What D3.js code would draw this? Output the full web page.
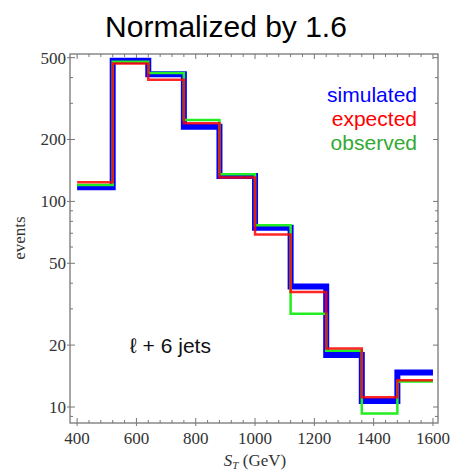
<!DOCTYPE html>
<html><head><meta charset="utf-8">
<script src="https://cdn.jsdelivr.net/npm/d3@7"></script>
<style>body{margin:0;background:#fff}</style>
</head><body>
<script>
const binEdges = [400,520,640,760,880,1000,1120,1240,1360,1480,1600];
const simulated = [117,483,415,231,133,74.4,38.6,17.9,10.7,14.7];
const expected  = [124,468,391,240,130.6,69,36.3,19.25,11.15,13.5];
const observed  = [120,478,421,249,135.5,76.6,28.4,18.8,9.3,13.3];
const xTicks = [400,600,800,1000,1200,1400,1600];
const yTicks = [10,20,50,100,200,500];

const W=451,H=472;
const svg=d3.select("body").append("svg").attr("width",W).attr("height",H);
const L=70,R=438,T=54,B=423;
const x=d3.scaleLinear().domain([376,1617]).range([L,R]);
const y=d3.scaleLog().domain([8.36,521]).range([B,T]);

// title
svg.append("text").attr("x",226).attr("y",37).attr("text-anchor","middle")
  .attr("font-family","Liberation Sans, Arial, sans-serif").attr("font-size",30).text("Normalized by 1.6");

// frame
svg.append("rect").attr("x",L).attr("y",T).attr("width",R-L).attr("height",B-T)
  .attr("fill","none").attr("stroke","#777").attr("stroke-width",1.3);

// ticks
const g=svg.append("g").attr("stroke","#777").attr("stroke-width",1);
const xMinor=d3.range(400,1620,40);
xMinor.forEach(v=>{
  const major=xTicks.includes(v);
  const len=major?5:3;
  g.append("line").attr("x1",x(v)).attr("x2",x(v)).attr("y1",B).attr("y2",B-len);
  g.append("line").attr("x1",x(v)).attr("x2",x(v)).attr("y1",T).attr("y2",T+len);
});
const yMinorVals=[];
[10,100].forEach(d=>{for(let k=1;k<10;k++){const v=d*k; if(v>=8.36&&v<=521) yMinorVals.push(v);} });
[9].forEach(v=>yMinorVals.push(v));
yMinorVals.forEach(v=>{
  const major=yTicks.includes(v);
  const len=major?5:3;
  g.append("line").attr("x1",L).attr("x2",L+len).attr("y1",y(v)).attr("y2",y(v));
  g.append("line").attr("x1",R).attr("x2",R-len).attr("y1",y(v)).attr("y2",y(v));
});
yTicks.forEach(v=>{
  g.append("line").attr("x1",L-3).attr("x2",L).attr("y1",y(v)).attr("y2",y(v));
});
xTicks.forEach(v=>{
  g.append("line").attr("x1",x(v)).attr("x2",x(v)).attr("y1",B).attr("y2",B+3);
});

// tick labels
const serif="Liberation Serif, Times New Roman, serif";
svg.append("g").selectAll("text").data(xTicks).join("text")
  .attr("x",d=>x(d)).attr("y",444).attr("text-anchor","middle")
  .attr("font-family",serif).attr("font-size",17).attr("fill","#333").text(d=>d);
svg.append("g").selectAll("text").data(yTicks).join("text")
  .attr("x",L-4).attr("y",d=>y(d)+6).attr("text-anchor","end")
  .attr("font-family",serif).attr("font-size",17).attr("fill","#333").text(d=>d);

// axis labels
const xl=svg.append("text").attr("x",255).attr("y",466).attr("text-anchor","middle")
  .attr("font-family",serif).attr("font-size",17).attr("fill","#333");
xl.append("tspan").attr("font-style","italic").text("S");
xl.append("tspan").attr("font-style","italic").attr("font-size",11).attr("dy",3).text("T");
xl.append("tspan").attr("dy",-3).text(" (GeV)");
svg.append("text").attr("transform","translate(25,238) rotate(-90)").attr("text-anchor","middle")
  .attr("font-family",serif).attr("font-size",17).attr("fill","#333").text("events");

// step lines
function stepData(vals){
  const pts=[];
  vals.forEach((v,i)=>{pts.push([binEdges[i],v]);pts.push([binEdges[i+1],v]);});
  return pts;
}
const line=d3.line().x(d=>x(d[0])).y(d=>y(d[1]));
const plot=svg.append("g");
plot.append("path").attr("d",line(stepData(simulated))).attr("fill","none")
  .attr("stroke","#0000ff").attr("stroke-width",6);
plot.append("path").attr("d",line(stepData(observed))).attr("fill","none")
  .attr("stroke","#22ee22").attr("stroke-width",2.5);
plot.append("path").attr("d",line(stepData(expected))).attr("fill","none")
  .attr("stroke","#ff0000").attr("stroke-width",2.5).attr("stroke-opacity",0.85);

// legend
const legend=[["simulated","#0000ff",102],["expected","#ff0000",126],["observed","#33aa33",150]];
svg.append("g").selectAll("text").data(legend).join("text")
  .attr("x",417).attr("y",d=>d[2]).attr("text-anchor","end")
  .attr("font-family","Liberation Sans, Arial, sans-serif").attr("font-size",21)
  .attr("fill",d=>d[1]).text(d=>d[0]);

// annotation
svg.append("text").attr("x",130).attr("y",353)
  .attr("font-family","Liberation Sans, Arial, sans-serif").attr("font-size",21).attr("fill","#111")
  .text("ℓ + 6 jets");
</script>
</body></html>
